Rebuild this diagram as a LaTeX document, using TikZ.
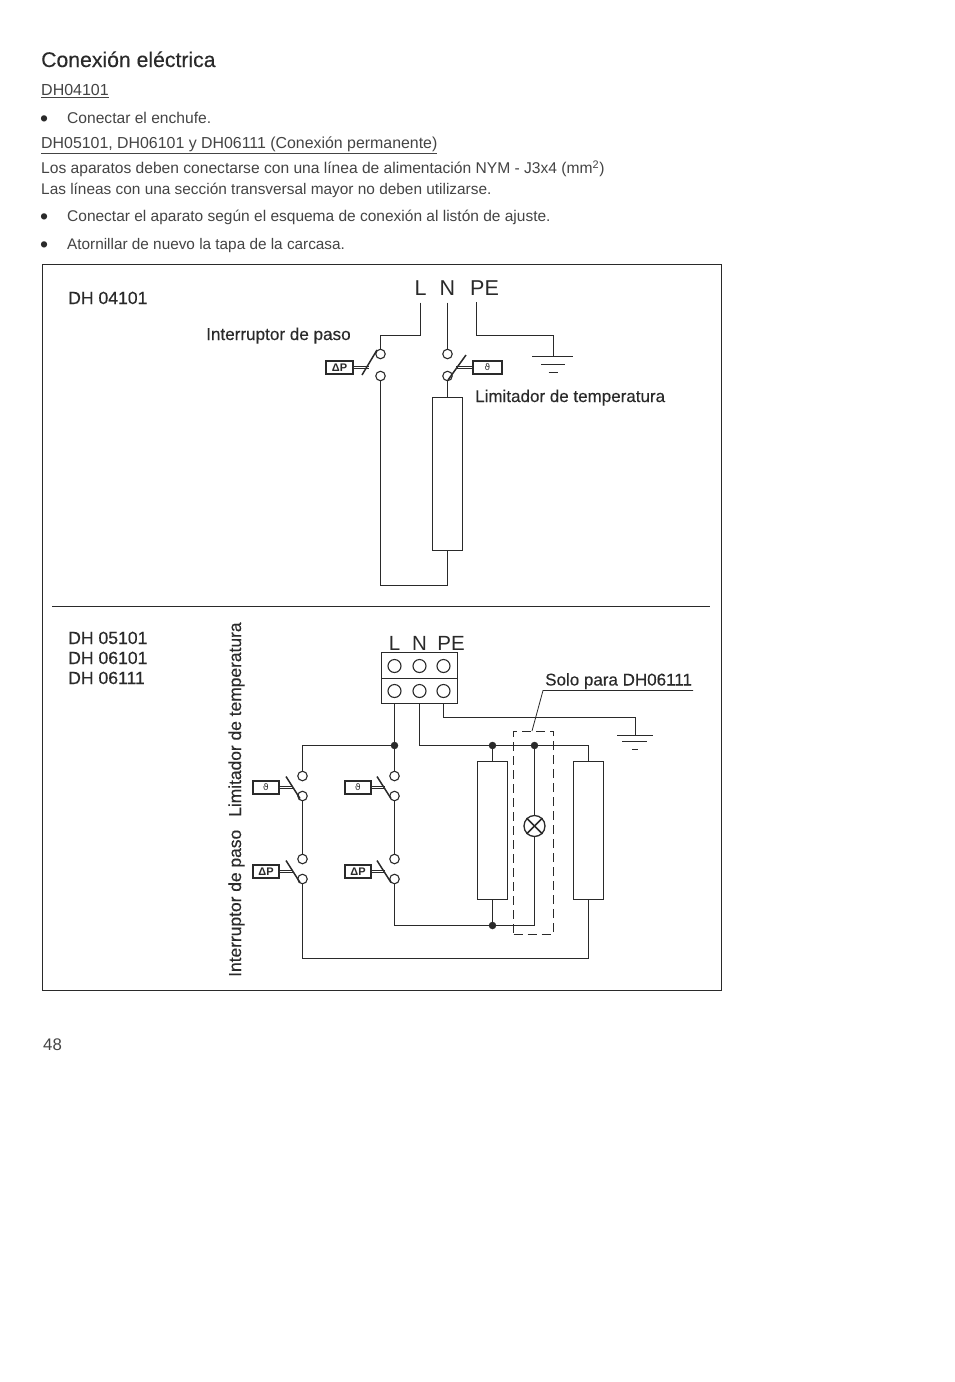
\documentclass[tikz,border=0pt]{standalone}
\usepackage{fontspec}
\setmainfont{Liberation Sans}
\newfontfamily\symfont{DejaVu Sans}
\newfontfamily\medfont[FakeBold=0.25]{Liberation Sans}
\definecolor{ink}{HTML}{2A2A2A}
\definecolor{body}{HTML}{444444}
\tikzset{
  wire/.style={draw=ink,line width=1.5pt,line join=miter},
  gnd/.style={draw=ink,line width=1.2pt},
  thin wire/.style={draw=ink,line width=0.8pt},
  term/.style={circle,draw=ink,fill=white,line width=1.1pt,minimum size=9.5pt,inner sep=0pt},
  bigterm/.style={circle,draw=ink,fill=white,line width=1.1pt,minimum size=13pt,inner sep=0pt},
  jdot/.style={circle,fill=ink,minimum size=7.5pt,inner sep=0pt},
  elem/.style={rectangle,draw=ink,fill=white,line width=1.5pt,inner sep=0pt},
  relay/.style={rectangle,draw=ink,fill=white,line width=1.1pt,inner sep=0pt,minimum height=13pt,text=ink},
  para/.style={anchor=base west,inner sep=0pt,text=body,font=\fontsize{15.6}{18}\selectfont},
  bulletmark/.style={anchor=base west,inner sep=0pt,text=ink,font=\fontsize{23}{23}\selectfont},
  head/.style={anchor=base west,inner sep=0pt,text=ink,font=\medfont\fontsize{17}{20}\selectfont},
  dhlabel/.style={anchor=base west,inner sep=0pt,text=ink,font=\medfont\fontsize{17.6}{20}\selectfont},
  bigl/.style={inner sep=0pt,minimum height=28pt,text=ink,font=\fontsize{21.5}{24}\selectfont},
  link/.style={draw=ink,line width=0.8pt,double=white,double distance=1.2pt},
}
\newcommand{\thetaglyph}{{\symfont\fontsize{9}{9}\selectfont ϑ}}
\newcommand{\dpglyph}{{\fontsize{11}{11}\selectfont\bfseries ΔP}}
\begin{document}
\begin{tikzpicture}[x=1pt,y=-1pt]
\useasboundingbox[fill=white] (0,0) rectangle (954,1382);
% page text
\node[anchor=base west,inner sep=0pt,text=ink,font=\medfont\fontsize{21.2}{24}\selectfont] (title) at (41,67) {Conexión eléctrica};
\node[para,font=\fontsize{16}{18}\selectfont] (t1) at (41,95.5) {\underline{DH04101}};
\node[bulletmark] (b1) at (40,126.5) {•};
\node[para] (t2) at (67,123.5) {Conectar el enchufe.};
\node[para,font=\fontsize{15.9}{18}\selectfont] (t3) at (41,148.5) {\underline{DH05101, DH06101 y DH06111 (Conexión permanente)}};
\node[para] (t4) at (41,173.5) {Los aparatos deben conectarse con una línea de alimentación NYM - J3x4 (mm\textsuperscript{2})};
\node[para,font=\fontsize{15.4}{18}\selectfont] (t5) at (41,194.5) {Las líneas con una sección transversal mayor no deben utilizarse.};
\node[bulletmark] (b2) at (40,224.5) {•};
\node[para,font=\fontsize{15.5}{18}\selectfont] (t6) at (67,221.5) {Conectar el aparato según el esquema de conexión al listón de ajuste.};
\node[bulletmark] (b3) at (40,252.5) {•};
\node[para,font=\fontsize{15.33}{18}\selectfont] (t7) at (67,249.5) {Atornillar de nuevo la tapa de la carcasa.};
\node[para,font=\fontsize{16.8}{20}\selectfont] (pg) at (43,1050) {48};
% frame
\node[draw=ink,line width=0.8pt,minimum width=679pt,minimum height=726pt,inner sep=0pt] (frame) at (382,627.5) {};
\coordinate (divl) at (52,606.5);
\coordinate (divr) at (710,606.5);
\draw[thin wire] (divl) -- (divr);
% upper labels
\node[dhlabel] (d1) at (68,304) {DH 04101};
\node[head,font=\medfont\fontsize{17.1}{20}\selectfont] (ip) at (206,340) {Interruptor de paso};
\node[head] (lt) at (475,402) {Limitador de temperatura};
\node[bigl] (L1) at (420.5,288.5) {L};
\node[bigl] (N1) at (447.5,288.5) {N};
\node[bigl] (PE1) at (484.5,288.5) {PE};
% upper circuit
\node[term] (a1) at (380.5,354) {};
\node[term] (a2) at (380.5,376) {};
\node[term] (b1c) at (447.5,354) {};
\node[term] (b2c) at (447.5,376) {};
\node[elem,minimum width=30pt,minimum height=153pt] (e0) at (447.5,474) {};
\coordinate (c1) at (420.5,335.5);
\coordinate (c2) at (380.5,335.5);
\draw[wire] (L1.south) -- (c1) -- (c2) -- (a1);
\draw[wire] (N1.south) -- (b1c);
\draw[wire] (b2c) -- (e0.north);
\coordinate (c3) at (380.5,585.5);
\draw[wire] (a2) -- (c3) -| (e0.south);
\coordinate (pe0) at (476.5,302);
\coordinate (pe1) at (476.5,335.5);
\coordinate (pe2) at (553.5,335.5);
\coordinate (g1) at (553.5,356.5);
\draw[wire] (pe0) -- (pe1) -- (pe2) -- (g1);
\coordinate (g1al) at (532,356.5); \coordinate (g1ar) at (573,356.5);
\coordinate (g1bl) at (541,364.5); \coordinate (g1br) at (565,364.5);
\coordinate (g1cl) at (548.5,372.5); \coordinate (g1cr) at (557.5,372.5);
\draw[gnd] (g1al) -- (g1ar);
\draw[gnd] (g1bl) -- (g1br);
\draw[gnd] (g1cl) -- (g1cr);
\node[relay,minimum width=27pt] (r1) at (339.5,367.5) {\dpglyph};
\coordinate (l1) at (369,367.5);
\draw[link] (r1.east) -- (l1);
\coordinate (s1a) at (362,375); \coordinate (s1b) at (377,350);
\draw[wire] (s1a) -- (s1b);
\node[relay,minimum width=29pt] (r2) at (487.5,367.5) {\thetaglyph};
\coordinate (l2) at (456,367.5);
\draw[link] (r2.west) -- (l2);
\coordinate (s2a) at (448,380); \coordinate (s2b) at (466,355);
\draw[wire] (s2a) -- (s2b);
% lower labels
\node[dhlabel] (d2) at (68,644) {DH 05101};
\node[dhlabel] (d3) at (68,664) {DH 06101};
\node[dhlabel] (d4) at (68,684) {DH 06111};
\node[head] (solo) at (545,685.5) {Solo para DH06111};
\node[head,rotate=90,font=\medfont\fontsize{17.4}{20}\selectfont] (v1) at (241,977) {Interruptor de paso};
\node[head,rotate=90,font=\medfont\fontsize{17.4}{20}\selectfont] (v2) at (241,817) {Limitador de temperatura};
\node[bigl,font=\fontsize{20.5}{23}\selectfont] (L2) at (394.5,643.5) {L};
\node[bigl,font=\fontsize{20.5}{23}\selectfont] (N2) at (419.5,643.5) {N};
\node[bigl,font=\fontsize{20.5}{23}\selectfont] (PE2) at (451,643.5) {PE};
% terminal block
\node[elem,minimum width=76pt,minimum height=51pt] (tb) at (419.5,678) {};
\coordinate (tbl) at (381.5,678.5); \coordinate (tbr) at (457.5,678.5);
\draw[wire] (tbl) -- (tbr);
\node[bigterm] (k1) at (394.5,666) {};
\node[bigterm] (k2) at (419.5,666) {};
\node[bigterm] (k3) at (443.5,666) {};
\node[bigterm] (k4) at (394.5,691) {};
\node[bigterm] (k5) at (419.5,691) {};
\node[bigterm] (k6) at (443.5,691) {};
% elements
\node[elem,minimum width=30pt,minimum height=138pt] (e1) at (492.5,830.5) {};
\node[elem,minimum width=30pt,minimum height=138pt] (e2) at (588.5,830.5) {};
\node[circle,draw=ink,line width=1.3pt,minimum size=21pt,inner sep=0pt,fill=white] (lamp) at (534.5,826) {};
\draw[wire] (lamp.north west) -- (lamp.south east);
\draw[wire] (lamp.north east) -- (lamp.south west);
% junctions
\node[jdot] (j1) at (394.5,745.5) {};
\node[jdot] (j2) at (492.5,745.5) {};
\node[jdot] (j3) at (534.5,745.5) {};
\node[jdot] (j4) at (492.5,925.5) {};
% switch terminals
\node[term] (p1) at (302.5,776) {};
\node[term] (p2) at (302.5,796) {};
\node[term] (p3) at (302.5,859) {};
\node[term] (p4) at (302.5,879) {};
\node[term] (q1) at (394.5,776) {};
\node[term] (q2) at (394.5,796) {};
\node[term] (q3) at (394.5,859) {};
\node[term] (q4) at (394.5,879) {};
% wiring
\coordinate (tL) at (394.5,703.5);
\coordinate (tN) at (419.5,703.5);
\coordinate (tP) at (443.5,703.5);
\draw[wire] (tL) -- (j1) -- (q1);
\coordinate (h1) at (302.5,745.5);
\draw[wire] (j1) -- (h1) -- (p1);
\coordinate (n1) at (419.5,745.5);
\coordinate (n2) at (588.5,745.5);
\draw[wire] (tN) -- (n1) -- (n2) -- (e2.north);
\draw[wire] (j2) -- (e1.north);
\draw[wire] (j3) -- (lamp);
\coordinate (x1) at (443.5,717.5);
\coordinate (x2) at (635.5,717.5);
\coordinate (g2) at (635.5,735.5);
\draw[wire] (tP) -- (x1) -- (x2) -- (g2);
\coordinate (g2al) at (617,735.5); \coordinate (g2ar) at (653,735.5);
\coordinate (g2bl) at (622,741.5); \coordinate (g2br) at (647,741.5);
\coordinate (g2cl) at (632,749.5); \coordinate (g2cr) at (638,749.5);
\draw[gnd] (g2al) -- (g2ar);
\draw[gnd] (g2bl) -- (g2br);
\draw[gnd] (g2cl) -- (g2cr);
\draw[wire] (p2) -- (p3);
\draw[wire] (q2) -- (q3);
\coordinate (y1) at (302.5,958.5);
\coordinate (y2) at (588.5,958.5);
\draw[wire] (p4) -- (y1) -- (y2) -- (e2.south);
\coordinate (z1) at (394.5,925.5);
\coordinate (z2) at (534.5,925.5);
\draw[wire] (q4) -- (z1) -- (z2) -- (lamp);
\draw[wire] (j4) -- (e1.south);
% switches
\foreach \nm/\rx/\ry/\lx/\ax/\gl in {
  u1/266/787.5/293/286/\thetaglyph,
  u2/266/871.5/293/286/\dpglyph,
  u3/358/787.5/385/377/\thetaglyph,
  u4/358/871.5/385/377/\dpglyph}{
  \node[relay,minimum width=26pt] (\nm) at (\rx,\ry) {\gl};
  \coordinate (\nm l) at (\lx,\ry);
  \draw[link] (\nm.east) -- (\nm l);
  \coordinate (\nm a) at (\ax,\ry-11);
  \coordinate (\nm b) at (\ax+14,\ry+11);
  \draw[wire] (\nm a) -- (\nm b);
}
% dashed box and leader
\node[draw=ink,line width=0.9pt,dash pattern=on 9pt off 5pt,minimum width=40pt,minimum height=203pt,inner sep=0pt] (dbox) at (533.5,832.5) {};
\coordinate (ld1) at (532,731);
\coordinate (ld2) at (543,690.5);
\coordinate (ld3) at (693,690.5);
\draw[thin wire] (ld1) -- (ld2) -- (ld3);
\end{tikzpicture}
\end{document}
